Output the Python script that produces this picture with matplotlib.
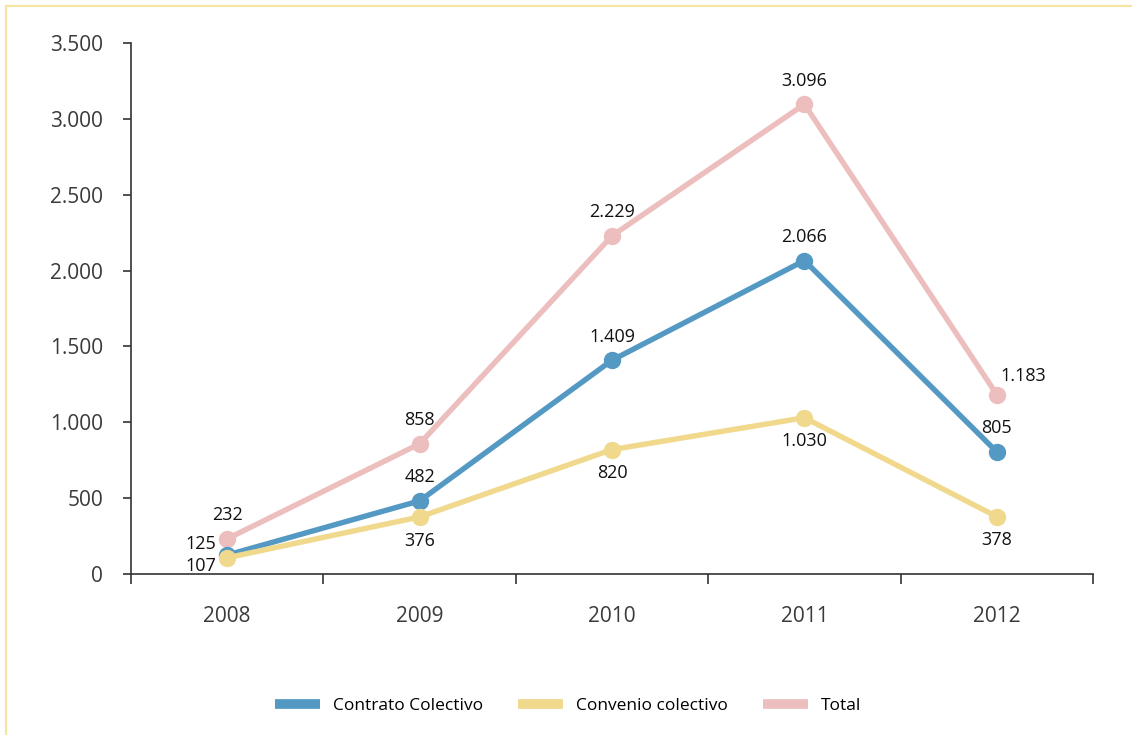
import matplotlib
matplotlib.use("Agg")
import matplotlib.pyplot as plt
from matplotlib.lines import Line2D

years = ["2008", "2009", "2010", "2011", "2012"]
contrato = [125, 482, 1409, 2066, 805]
convenio = [107, 376, 820, 1030, 378]
total = [232, 858, 2229, 3096, 1183]
yticks = [0, 500, 1000, 1500, 2000, 2500, 3000, 3500]
ytick_labels = ["0", "500", "1.000", "1.500", "2.000", "2.500", "3.000", "3.500"]

def fmt(v):
    return f"{v:,}".replace(",", ".")

plt.rcParams['font.family'] = ['Open Sans', 'DejaVu Sans']

c_blue = "#5499c3"
c_yellow = "#f0d98c"
c_pink = "#ecbebd"

fig = plt.figure(figsize=(11.32, 7.35), dpi=100)
ax = fig.add_axes([131/1132, 1-574/735, (1093-131)/1132, (574-43)/735])

x = list(range(len(years)))
lw = 3.9
ms = 11.5
ax.plot(x, total, color=c_pink, lw=lw, marker="o", ms=ms, zorder=2)
ax.plot(x, contrato, color=c_blue, lw=lw, marker="o", ms=ms, zorder=3)
ax.plot(x, convenio, color=c_yellow, lw=lw, marker="o", ms=ms, zorder=4)

ax.set_xlim(-0.5, 4.5)
ax.set_ylim(0, 3500)
ax.set_yticks(yticks)
ax.set_yticklabels(ytick_labels)
ax.set_xticks(x)
ax.set_xticklabels(years)
ax.set_xticks([i - 0.5 for i in range(len(years) + 1)], minor=True)

for s in ["top", "right"]:
    ax.spines[s].set_visible(False)
for s in ["left", "bottom"]:
    ax.spines[s].set_color("#333333")
    ax.spines[s].set_linewidth(1.2)

ax.tick_params(axis="y", length=6, width=1.2, color="#333333", pad=14,
               labelsize=15, labelcolor="#3a3a3a")
ax.tick_params(axis="x", which="major", length=0, pad=23, labelsize=15, labelcolor="#3a3a3a")
ax.tick_params(axis="x", which="minor", length=7, width=1.2, color="#333333")

fs = 13
lab_kw = dict(textcoords="offset points", ha="center", va="center", fontsize=fs, color="#111111")
for i, v in enumerate(total):
    if i == 4:
        ax.annotate(fmt(v), (i, v), xytext=(19, 13), **lab_kw)
    else:
        ax.annotate(fmt(v), (i, v), xytext=(0, 17), **lab_kw)
for i, v in enumerate(contrato):
    if i == 0:
        ax.annotate(fmt(v), (i, v), xytext=(-8, 8), textcoords="offset points",
                    ha="right", va="center", fontsize=fs, color="#111111")
    else:
        ax.annotate(fmt(v), (i, v), xytext=(0, 17), **lab_kw)
for i, v in enumerate(convenio):
    if i == 0:
        ax.annotate(fmt(v), (i, v), xytext=(-8, -6), textcoords="offset points",
                    ha="right", va="center", fontsize=fs, color="#111111")
    else:
        ax.annotate(fmt(v), (i, v), xytext=(0, -17), **lab_kw)

handles = [Line2D([], [], color=c_blue, lw=7, solid_capstyle="butt"),
           Line2D([], [], color=c_yellow, lw=7, solid_capstyle="butt"),
           Line2D([], [], color=c_pink, lw=7, solid_capstyle="butt")]
fig.legend(handles, ["Contrato Colectivo", "Convenio colectivo", "Total"],
           loc="center", bbox_to_anchor=(568/1132, 1-706/735), ncol=3, frameon=False,
           fontsize=12.5, handlelength=2.6, handletextpad=0.75, columnspacing=2.0)

# light frame on top and left
fig.add_artist(Line2D([6/1132, 6/1132], [0, 1-6/735], color="#f5e3a0", lw=1.5,
                      transform=fig.transFigure))
fig.add_artist(Line2D([6/1132, 1], [1-6/735, 1-6/735], color="#f5e3a0", lw=1.5,
                      transform=fig.transFigure))

fig.savefig("out.png", dpi=100)
